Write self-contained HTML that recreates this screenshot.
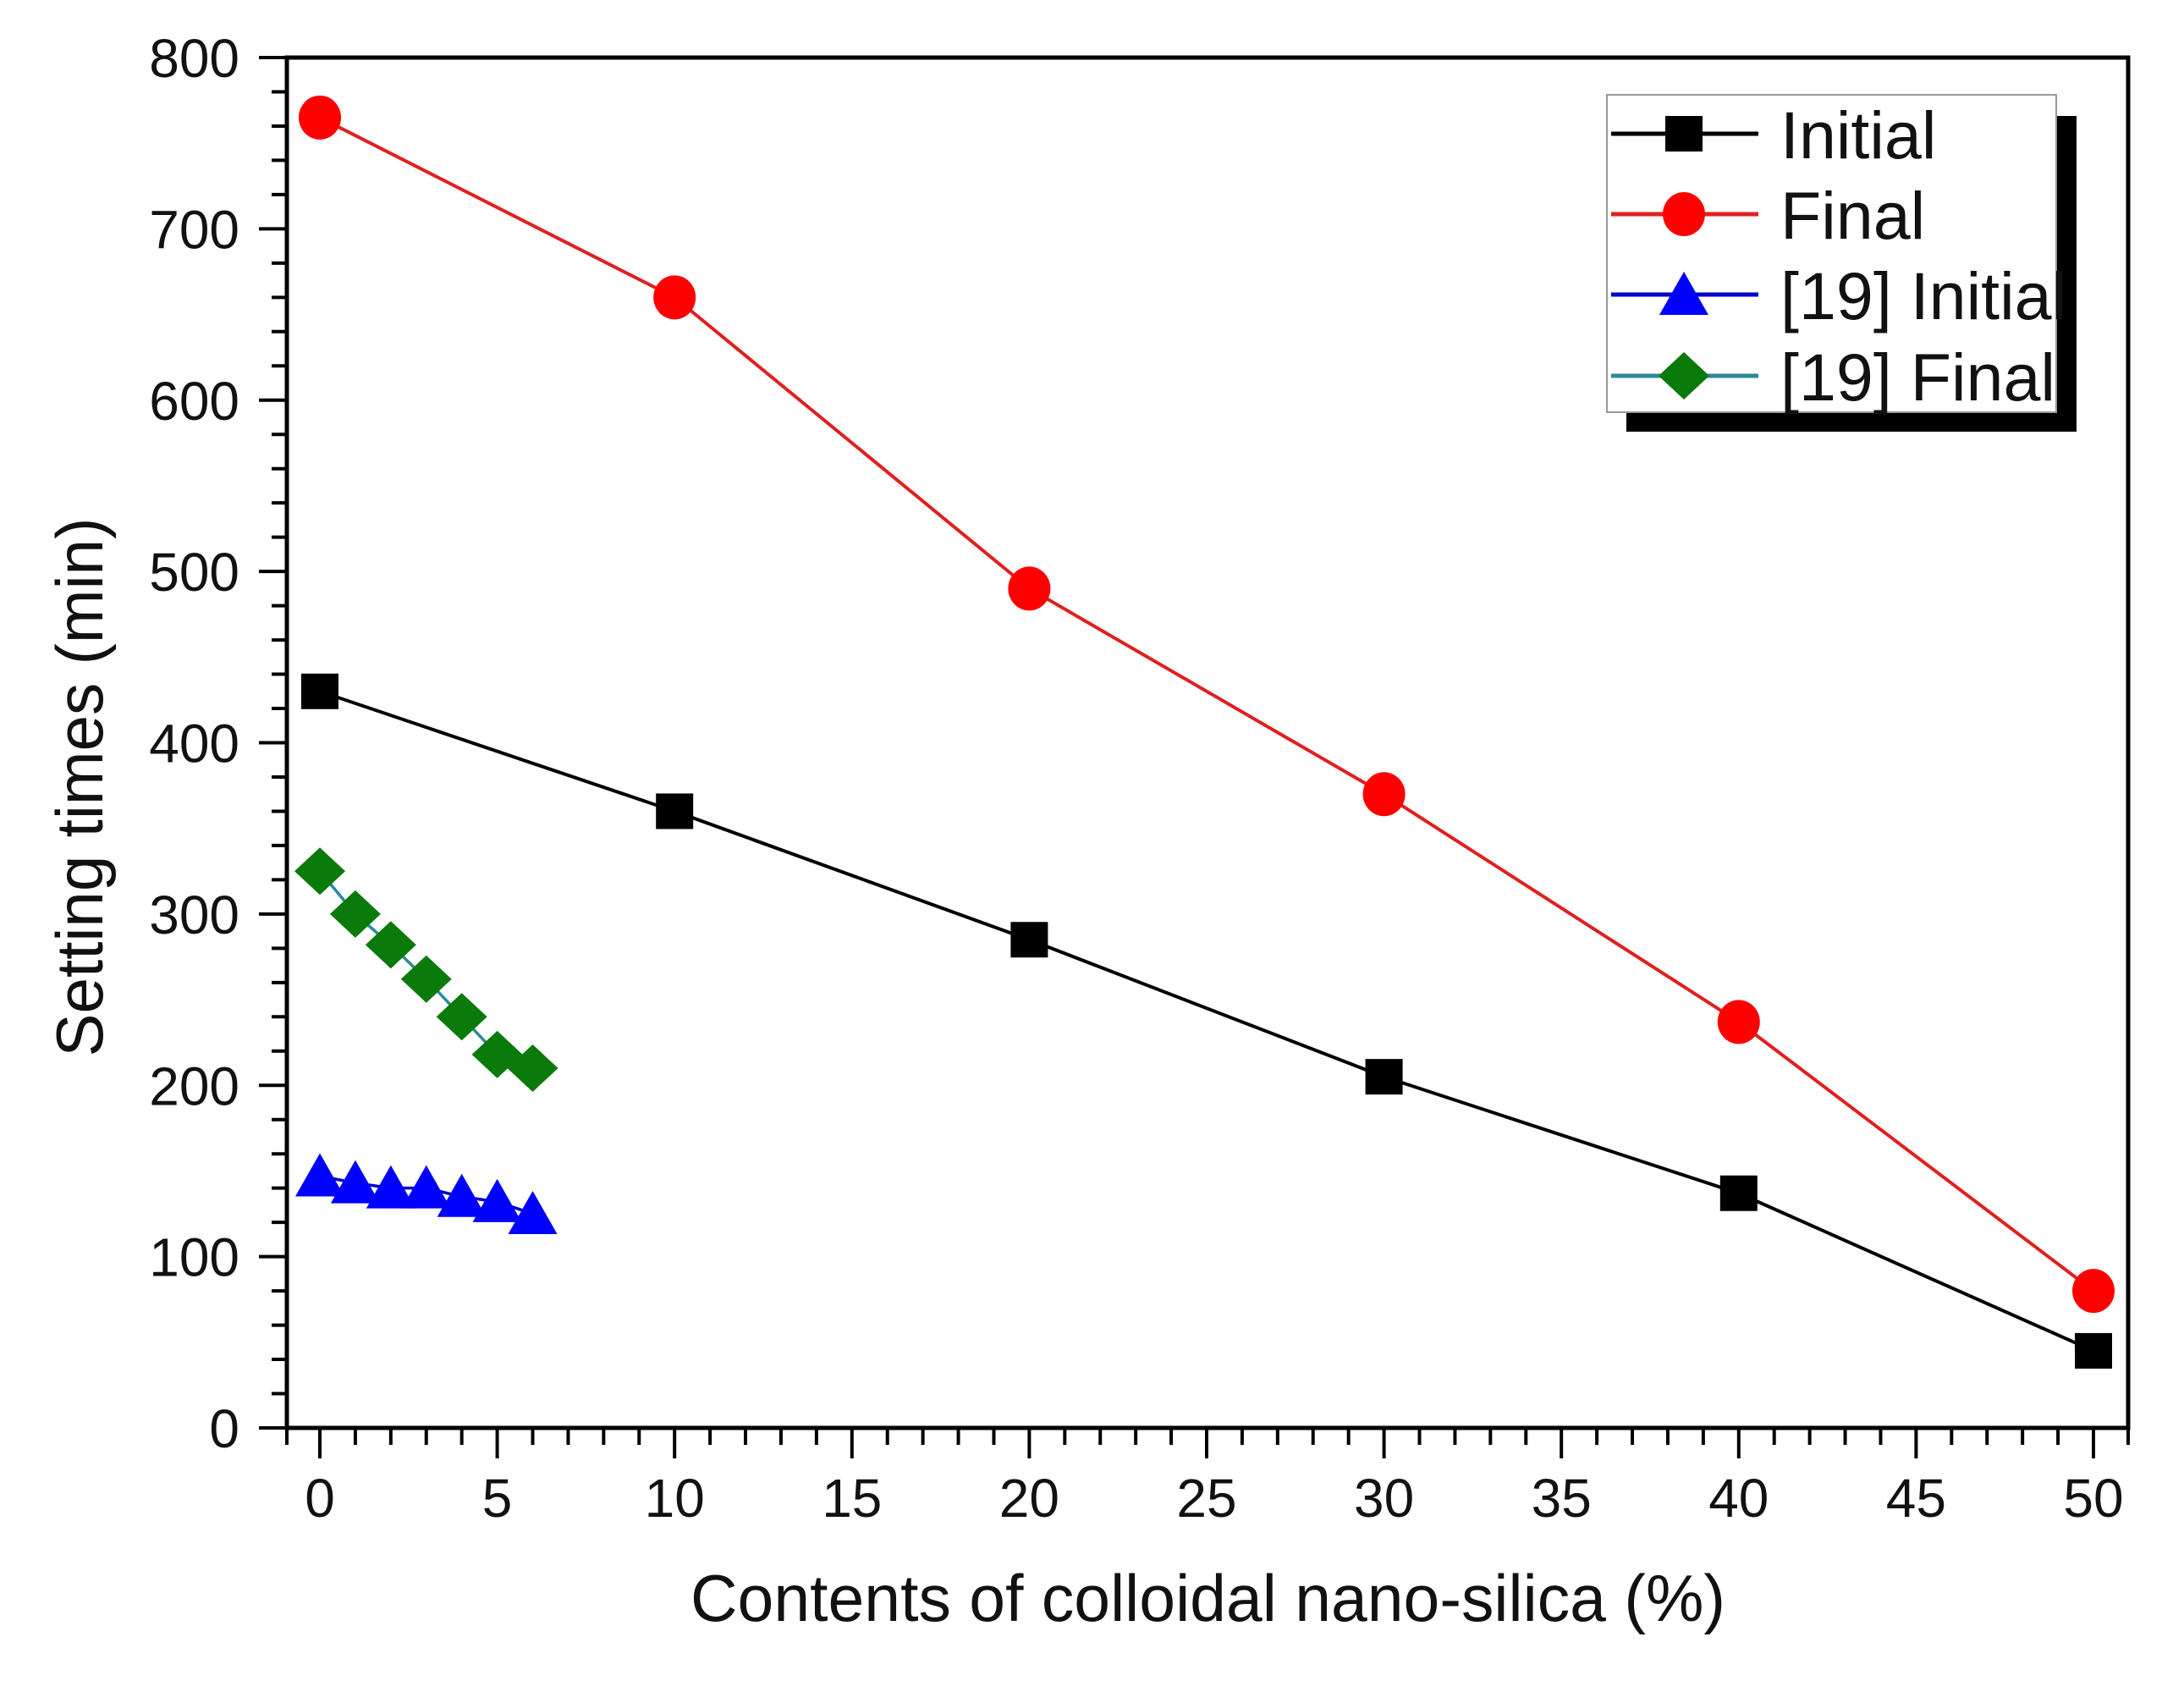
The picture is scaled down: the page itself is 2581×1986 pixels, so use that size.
<!DOCTYPE html>
<html><head><meta charset="utf-8"><style>
html,body{margin:0;padding:0;background:#fff;}
svg{display:block;}
text{font-family:"Liberation Sans",Arial,sans-serif;fill:#111;}
</style></head><body>
<svg id="chart" width="2581" height="1986" viewBox="0 0 2581 1986" xmlns="http://www.w3.org/2000/svg">
<rect width="2581" height="1986" fill="#fff"/>
<g id="plot"></g>
<text x="816" y="1915" font-size="78" textLength="1223" lengthAdjust="spacingAndGlyphs">Contents of colloidal nano-silica (%)</text>
<text transform="translate(121,930) rotate(-90)" text-anchor="middle" font-size="78" textLength="637" lengthAdjust="spacingAndGlyphs">Setting times (min)</text>
</svg>
<script>
const xTicks = [0,5,10,15,20,25,30,35,40,45,50];
const yTicks = [0,100,200,300,400,500,600,700,800];
const mainX = [0,10,20,30,40,50];
const initialY = [430,360,285,205,137,45];
const finalY = [765,660,490,370,237,80];
const refX = [0,1,2,3,4,5,6];
const refInitialY = [147,143,140,140,135,132,125];
const refFinalY = [325,300,282,262,240,218,210];

const NS='http://www.w3.org/2000/svg';
const X0=378, XS=(2474-378)/50, Y0=1687, YS=(1687-68)/800;
const L=339, R=2515, T=68, B=1687;
function sx(v){return X0+v*XS;}
function sy(v){return Y0-v*YS;}
const plot=document.getElementById('plot');
function mk(tag,attrs,parent){const e=document.createElementNS(NS,tag);for(const k in attrs)e.setAttribute(k,attrs[k]);(parent||plot).appendChild(e);return e;}

const frame=mk('rect',{x:L,y:T,width:R-L,height:B-T,fill:'none',stroke:'#000','stroke-width':5});



for(let v=0; v<=50; v+=1){
  const x=sx(v);
  const major=v%5===0;
  const t=mk('line',{x1:x,y1:B,x2:x,y2:B+(major?36:20),stroke:'#000','stroke-width':4});
  
  
}
const lt=mk('line',{x1:L,y1:B,x2:L,y2:B+20,stroke:'#000','stroke-width':4});


const rt=mk('line',{x1:R,y1:B,x2:R,y2:B+20,stroke:'#000','stroke-width':4});


xTicks.forEach(v=>{
  const t=mk('text',{x:sx(v),y:1792,'text-anchor':'middle','font-size':64});
  t.textContent=v;
  
  
});
for(let v=0; v<=800; v+=20){
  const major=v%100===0;
  const t=mk('line',{x1:L,y1:sy(v),x2:L-(major?33:18),y2:sy(v),stroke:'#000','stroke-width':4});
  
  
}
yTicks.forEach(v=>{
  const t=mk('text',{x:283,y:sy(v)+23,'text-anchor':'end','font-size':64});
  t.textContent=v;
  
  
});

function marker(kind,x,y,parent){
  let e;
  if(kind==='square') e=mk('rect',{x:x-22,y:y-21,width:44,height:42,fill:'#000'},parent);
  else if(kind==='circle') e=mk('ellipse',{cx:x,cy:y,rx:25,ry:26,fill:'#f00'},parent);
  else if(kind==='tri') e=mk('polygon',{points:`${x},${y-27} ${x+29},${y+24} ${x-29},${y+24}`,fill:'#00f'},parent);
  else e=mk('polygon',{points:`${x},${y-28} ${x+30},${y} ${x},${y+28} ${x-30},${y}`,fill:'#0a7a0a'},parent);
  return e;
}
function series(name,xs,ys,color,lw,kind){
  const g=mk('g',{});
  
  
  const pl=mk('polyline',{points:xs.map((x,i)=>sx(x)+','+sy(ys[i])).join(' '),fill:'none',stroke:color,'stroke-width':lw},g);
  
  
  xs.forEach((x,i)=>{
    const m=marker(kind,sx(x),sy(ys[i]),g);
    
    
  });
}
series('initial',mainX,initialY,'#000',4,'square');
series('final',mainX,finalY,'#e02020',4,'circle');
series('ref19-initial',refX,refInitialY,'#0000cc',3.5,'tri');
series('ref19-final',refX,refFinalY,'#2a8a9a',3.5,'diamond');

const lg=mk('g',{});


const sh=mk('rect',{x:1922,y:137,width:532,height:373,fill:'#000'},lg);


const bx=mk('rect',{x:1899,y:112,width:531,height:375,fill:'#fff',stroke:'#999','stroke-width':2},lg);


const entries=[['Initial','#000','square',158],['Final','#e02020','circle',253],['[19] Initial','#0000cc','tri',348],['[19] Final','#2a8a9a','diamond',444]];
entries.forEach(en=>{
  const g=mk('g',{},lg);
  
  
  mk('line',{x1:1904,y1:en[3],x2:2078,y2:en[3],stroke:en[1],'stroke-width':5},g);
  marker(en[2],1990,en[3],g);
  const t=mk('text',{x:2104,y:en[3]+29,'font-size':79},g);
  t.textContent=en[0];
});
</script>
</body></html>
